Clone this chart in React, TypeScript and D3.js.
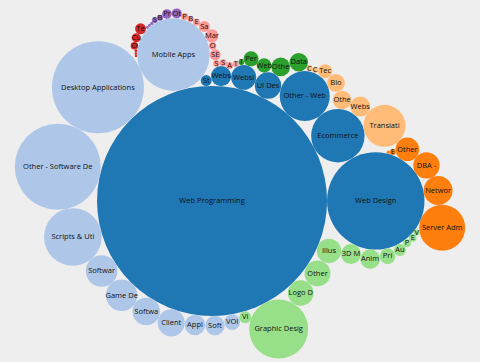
import React, { useMemo } from "react";
import * as d3 from "d3";

const W = 480;
const H = 362;

// Job categories (placement order) and their colours
const categoryNames = [
  "Web Development",
  "Software Development",
  "Design & Multimedia",
  "Networking & Information Systems",
  "Writing & Translation",
  "Administrative Support",
  "Sales & Marketing",
  "Business Services",
  "Customer Service",
];
const categoryColors = [
  "#1f77b4",
  "#aec7e8",
  "#98df8a",
  "#ff7f0e",
  "#ffbb78",
  "#2ca02c",
  "#ff9896",
  "#9467bd",
  "#d62728",
];

// Bubble labels (as displayed), values and category index, in layout order
const bubbleLabels = [
  "Web Programming", "Web Design", "Ecommerce", "Other - Web", "UI Des", "Websi", "Webs", "St",
  "Mobile Apps", "Desktop Applications", "Other - Software De", "Scripts & Uti", "Softwar", "Game De", "Softwa", "Client", "Appl", "Soft", "VOI",
  "Vi", "Graphic Desig", "Logo D", "Other", "Illus", "3D M", "Anim", "Pri", "Au", "P", "E", "V",
  "Server Adm", "Networ", "DBA -", "Other", "E", "",
  "Translati", "Webs", "Othe", "Blo", "Tec", "C", "C",
  "Data", "Othe", "Web", "Per", "T",
  "T", "A", "S", "S", "SE", "O", "Mar", "Sa", "E", "B", "P",
  "Ot", "Pr", "B", "S", "", "", "",
  "Te", "Cu", "O", "", "", "",
];
const bubbleValues = [
  13225, 2372, 713, 625, 174, 156, 102, 30,
  1318, 2116, 1849, 829, 250, 246, 190, 185, 106, 94, 62,
  36, 870, 164, 169, 149, 100, 96, 62, 36, 15, 14, 9,
  530, 210, 174, 139, 9, 2.5,
  441, 100, 86, 78, 50, 9, 9,
  86, 88, 52, 56, 8,
  9, 12, 12, 11, 30, 14, 42, 30, 12, 10, 12,
  25, 23, 9, 8, 2.6, 2.2, 2,
  30, 20, 14, 2, 1.7, 1.4,
];
const bubbleCategory = [
  0, 0, 0, 0, 0, 0, 0, 0,
  1, 1, 1, 1, 1, 1, 1, 1, 1, 1, 1,
  2, 2, 2, 2, 2, 2, 2, 2, 2, 2, 2, 2,
  3, 3, 3, 3, 3, 3,
  4, 4, 4, 4, 4, 4, 4,
  5, 5, 5, 5, 5,
  6, 6, 6, 6, 6, 6, 6, 6, 6, 6, 6,
  7, 7, 7, 7, 7, 7, 7,
  8, 8, 8, 8, 8, 8,
];

type PackNode = {
  i: number;
  r: number;
  x: number;
  y: number;
  next: PackNode;
  prev: PackNode;
};

// d3 v3 front-chain sibling packing (spiral placement in data order)
function packPlace(a: PackNode, b: PackNode, c: PackNode) {
  const dx = b.x - a.x;
  const dy = b.y - a.y;
  let db = a.r + c.r;
  if (db && (dx || dy)) {
    let da = b.r + c.r;
    const dc = dx * dx + dy * dy;
    da *= da;
    db *= db;
    const x = 0.5 + (db - da) / (2 * dc);
    const t = db - dc;
    const y = Math.sqrt(Math.max(0, 2 * da * (db + dc) - t * t - da * da)) / (2 * dc);
    c.x = a.x + x * dx + y * dy;
    c.y = a.y + x * dy - y * dx;
  } else {
    c.x = a.x + db;
    c.y = a.y;
  }
}
function intersects(a: PackNode, b: PackNode) {
  const dx = b.x - a.x;
  const dy = b.y - a.y;
  const dr = a.r + b.r;
  return 0.999 * dr * dr > dx * dx + dy * dy;
}
function insert(a: PackNode, b: PackNode) {
  const c = a.next;
  a.next = b;
  b.prev = a;
  b.next = c;
  c.prev = b;
}
function splice(a: PackNode, b: PackNode) {
  a.next = b;
  b.prev = a;
}
function packSiblings(nodes: PackNode[]) {
  nodes.forEach((d) => {
    d.next = d;
    d.prev = d;
  });
  const n = nodes.length;
  let a = nodes[0];
  a.x = -a.r;
  a.y = 0;
  let b = nodes[1];
  b.x = b.r;
  b.y = 0;
  let c = nodes[2];
  packPlace(a, b, c);
  insert(a, c);
  a.prev = c;
  insert(c, b);
  b = a.next;
  for (let i = 3; i < n; i++) {
    c = nodes[i];
    packPlace(a, b, c);
    let isect = 0;
    let s1 = 1;
    let s2 = 1;
    let j: PackNode;
    let k: PackNode = a.prev;
    for (j = b.next; j !== b; j = j.next, s1++) {
      if (intersects(j, c)) {
        isect = 1;
        break;
      }
    }
    if (isect === 1) {
      for (k = a.prev; k !== j.prev; k = k.prev, s2++) {
        if (intersects(k, c)) break;
      }
    }
    if (isect) {
      if (s1 < s2 || (s1 === s2 && b.r < a.r)) splice(a, (b = j));
      else splice((a = k), b);
      i--;
    } else {
      insert(a, c);
      b = c;
    }
  }
}

const OFFSET_Y = 2.5;

export default function App() {
  const layout = useMemo(() => {
    const rScale = d3
      .scaleSqrt()
      .domain([0, d3.max(bubbleValues) as number])
      .range([0, 115]);
    const nodes: PackNode[] = bubbleValues.map((v, i) => ({
      i,
      r: rScale(v),
      x: 0,
      y: 0,
    })) as PackNode[];
    packSiblings(nodes);
    const x0 = d3.min(nodes, (d) => d.x - d.r) as number;
    const x1 = d3.max(nodes, (d) => d.x + d.r) as number;
    const y0 = d3.min(nodes, (d) => d.y - d.r) as number;
    const y1 = d3.max(nodes, (d) => d.y + d.r) as number;
    const xs = d3
      .scaleLinear()
      .domain([x0, x1])
      .range([W / 2 - (x1 - x0) / 2, W / 2 + (x1 - x0) / 2]);
    const ys = d3
      .scaleLinear()
      .domain([y0, y1])
      .range([H / 2 + OFFSET_Y - (y1 - y0) / 2, H / 2 + OFFSET_Y + (y1 - y0) / 2]);
    return nodes.map((d) => ({
      i: d.i,
      cx: xs(d.x),
      cy: ys(d.y),
      r: d.r,
    }));
  }, []);

  return (
    <div style={{ position: "fixed", left: 0, top: 0, width: W, height: H }}>
      <svg width={W} height={H} style={{ display: "block" }}>
        <rect x={0} y={0} width={W} height={H} fill="#eeeeee" />
        {layout.map((d) => (
          <g key={d.i} transform={`translate(${d.cx},${d.cy})`}>
            <title>{`${categoryNames[bubbleCategory[d.i]]}: ${bubbleLabels[d.i]}`}</title>
            <circle r={d.r} fill={categoryColors[bubbleCategory[d.i]]} />
            {bubbleLabels[d.i] && (
              <text
                dy="0.3em"
                textAnchor="middle"
                fontFamily="'Open Sans', sans-serif"
                fontSize={7.5}
                fill="#111"
              >
                {bubbleLabels[d.i]}
              </text>
            )}
          </g>
        ))}
      </svg>
    </div>
  );
}
